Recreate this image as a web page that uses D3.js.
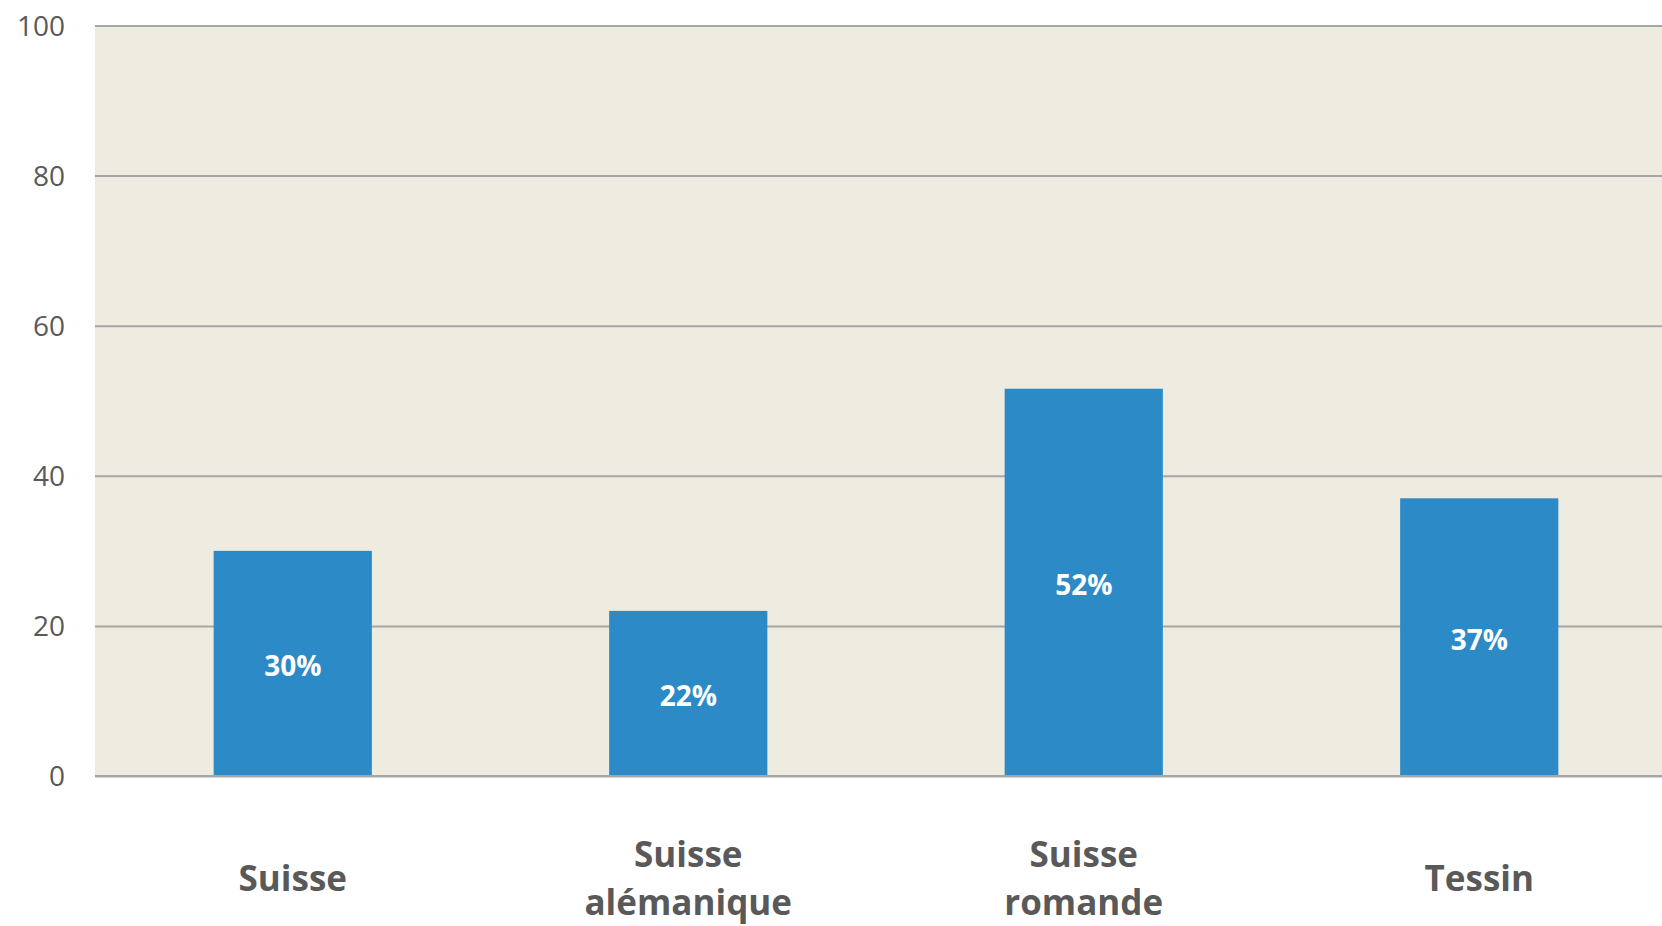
<!DOCTYPE html>
<html>
<head>
<meta charset="utf-8">
<script src="https://cdn.jsdelivr.net/npm/d3@7"></script>
<style>
  html, body { margin: 0; padding: 0; background: #ffffff; }
  svg { display: block; }
</style>
</head>
<body>
<svg id="chart" width="1662" height="926"></svg>
<script>
const categories = [["Suisse"], ["Suisse", "alémanique"], ["Suisse", "romande"], ["Tessin"]];
const values = [30, 22, 51.6, 37];
const yTicks = [0, 20, 40, 60, 80, 100];

const W = 1662, H = 926;
const margin = { left: 95, top: 25.5 };
const plotBottom = 776;
const bandWidth = 395.5;

const svg = d3.select("#chart");

const x = d3.scaleBand()
  .domain(d3.range(categories.length))
  .range([margin.left, margin.left + bandWidth * categories.length])
  .paddingInner(0.6)
  .paddingOuter(0.3);

const y = d3.scaleLinear().domain([0, 100]).range([plotBottom, margin.top]);

// plot background
svg.append("rect")
  .attr("x", margin.left).attr("y", y(100))
  .attr("width", W - margin.left).attr("height", y(0) - y(100))
  .attr("fill", "#EEEBE0");

// gridlines + tick labels
const yAxis = d3.axisLeft(y).tickValues(yTicks).tickSize(-(W - margin.left)).tickPadding(30);
const gy = svg.append("g").attr("transform", `translate(${margin.left},0)`).call(yAxis);
gy.select(".domain").remove();
gy.selectAll(".tick line").attr("stroke", "#A6A6A6").attr("stroke-width", 2);
gy.selectAll(".tick text")
  .attr("fill", "#595959")
  .attr("font-family", "'Open Sans', sans-serif")
  .attr("font-size", 28)
  .attr("dy", "0.35em");

// bars
svg.append("g").selectAll("rect").data(values).join("rect")
  .attr("x", (d, i) => x(i))
  .attr("y", d => y(d))
  .attr("width", x.bandwidth())
  .attr("height", d => y(0) - y(d))
  .attr("fill", "#2C8AC7");

// baseline on top
svg.append("line")
  .attr("x1", margin.left).attr("x2", W)
  .attr("y1", y(0)).attr("y2", y(0))
  .attr("stroke", "#A6A6A6").attr("stroke-width", 2);

// bar value labels
svg.append("g").selectAll("text").data(values).join("text")
  .attr("x", (d, i) => x(i) + x.bandwidth() / 2)
  .attr("y", d => (y(d) + y(0)) / 2)
  .attr("dy", "0.45em")
  .attr("text-anchor", "middle")
  .attr("fill", "#ffffff")
  .attr("font-family", "'Open Sans', sans-serif")
  .attr("font-weight", "bold")
  .attr("font-size", 28)
  .text(d => Math.round(d) + "%");

// category labels
const lineH = 48;
const centerY = 879;
const cat = svg.append("g").selectAll("text").data(categories).join("text")
  .attr("text-anchor", "middle")
  .attr("fill", "#595959")
  .attr("font-family", "'Open Sans', sans-serif")
  .attr("font-weight", "bold")
  .attr("font-size", 35);
cat.each(function(lines, i) {
  const t = d3.select(this);
  const cx = x(i) + x.bandwidth() / 2;
  const startY = centerY - (lines.length - 1) * lineH / 2;
  lines.forEach((ln, k) => {
    t.append("tspan").attr("x", cx).attr("y", startY + k * lineH).attr("dy", "0.35em").text(ln);
  });
});
</script>
</body>
</html>
